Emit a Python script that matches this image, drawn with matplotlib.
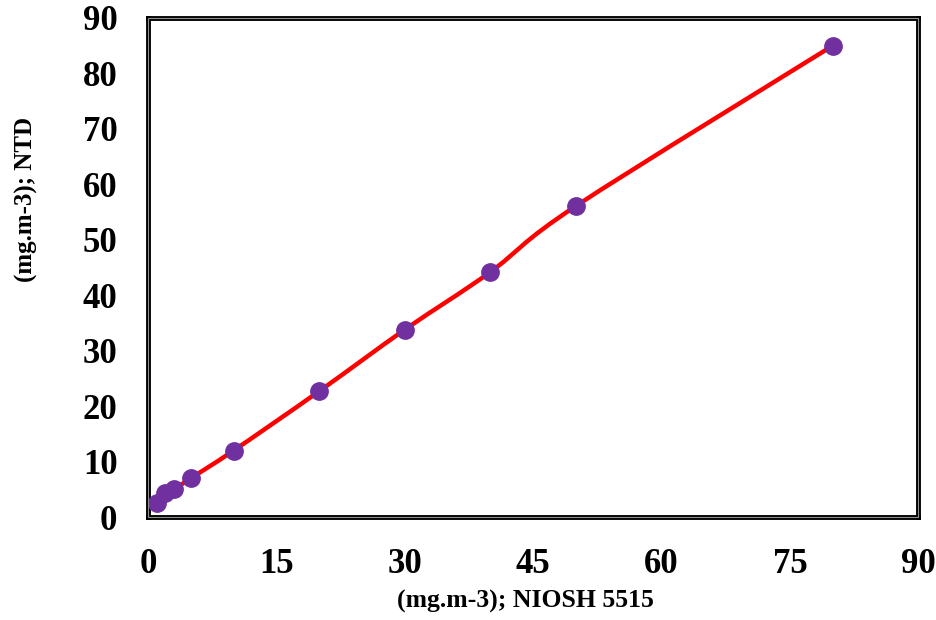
import numpy as np
import matplotlib.pyplot as plt
from matplotlib.path import Path
from matplotlib.patches import PathPatch, Rectangle

# data
niosh = [1, 2, 3, 5, 10, 20, 30, 40, 50, 80]
ntd = [2.5, 4.3, 5.0, 7.0, 12.0, 22.7, 33.8, 44.2, 56.1, 85.0]
xticks = [0, 15, 30, 45, 60, 75, 90]
yticks = [0, 10, 20, 30, 40, 50, 60, 70, 80, 90]

plt.rcParams['font.family'] = ['Liberation Serif', 'DejaVu Serif']
plt.rcParams['font.weight'] = 'bold'

fig = plt.figure(figsize=(9.37, 6.2), dpi=100)
ax = fig.add_axes([0.158, 0.166, 0.822, 0.805])

# smoothed line (excel style bezier through the points)
pts = np.column_stack([niosh, ntd]).astype(float)
verts = [pts[0]]
codes = [Path.MOVETO]
n = len(pts)
for i in range(n - 1):
    p0 = pts[i - 1] if i > 0 else pts[i]
    p1 = pts[i]
    p2 = pts[i + 1]
    p3 = pts[i + 2] if i + 2 < n else pts[i + 1]
    c1 = p1 + (p2 - p0) / 6
    c2 = p2 - (p3 - p1) / 6
    verts += [c1, c2, p2]
    codes += [Path.CURVE4] * 3
ax.add_patch(PathPatch(Path(verts, codes), fill=False, edgecolor='#FF0000', lw=3.2, zorder=2))

ax.plot(niosh, ntd, 'o', color='#7030A0', markersize=12.5, zorder=3)

ax.set_xlim(0, 90)
ax.set_ylim(0, 90)
ax.set_xticks(xticks)
ax.set_yticks(yticks)
ax.tick_params(axis='x', length=0, pad=22, labelsize=25)
ax.tick_params(axis='y', length=0, pad=22, labelsize=25)
for lab in ax.get_xticklabels() + ax.get_yticklabels():
    lab.set_fontweight('bold')

for s in ax.spines.values():
    s.set_linewidth(3.5)
    s.set_color('black')
ax.add_patch(Rectangle((0, 0), 1, 1, transform=ax.transAxes, fill=False,
                       edgecolor='#909090', lw=0.8, zorder=5, clip_on=False))

fig.text(0.561, 0.03, '(mg.m-3); NIOSH 5515', ha='center', va='center',
         fontsize=18.5, fontweight='bold')
fig.text(0.028, 0.678, '(mg.m-3); NTD', ha='center', va='center',
         rotation=90, fontsize=18, fontweight='bold')

fig.savefig('out.png', dpi=100)
